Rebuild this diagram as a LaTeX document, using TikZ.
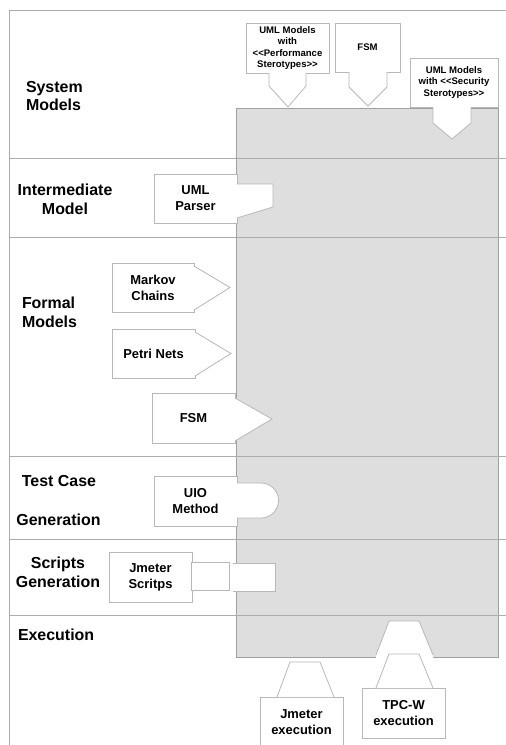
\documentclass[tikz,border=0pt]{standalone}
\usepackage{fontspec}
\setmainfont{Liberation Sans}
\usetikzlibrary{calc}
\definecolor{lanegray}{HTML}{ABABAB}
\definecolor{boxgray}{HTML}{B8B8B8}
\definecolor{fillgray}{HTML}{DEDEDE}
\definecolor{rectgray}{HTML}{A0A0A0}
\begin{document}
\begin{tikzpicture}[x=1bp,y=-1bp,
  lane/.style={draw=lanegray,line width=0.9bp},
  lanelabel/.style={font=\fontsize{16}{19}\selectfont\bfseries,inner sep=0,outer sep=0},
  box/.style={draw=boxgray,fill=white,line width=0.8bp,font=\fontsize{13}{16}\selectfont\bfseries,
    align=center,inner sep=0,outer sep=0,anchor=north west},
  smallbox/.style={box,font=\fontsize{9.6}{11.6}\selectfont\bfseries},
  tip/.style={draw=boxgray,fill=white,line width=0.8bp},
]
\useasboundingbox (0,0) rectangle (506,745);
\fill[white] (0,0) rectangle (506,745);

% grey process area
\node[draw=rectgray,fill=fillgray,line width=0.9bp,minimum width=262bp,minimum height=549bp,
      inner sep=0,outer sep=0,anchor=north west] (core) at (236,108) {};

% frame and lanes
\draw[lane] (9,10) -- (506,10);
\draw[lane] (9,10) -- (9,745);
\foreach \yy in {158,237,456,539,615} \draw[lane] (9,\yy) -- (506,\yy);

% lane labels
\node[lanelabel,anchor=west,align=left] (lsys) at (26,96) {System\\Models};
\node[lanelabel,align=center] (lint) at (65,199) {Intermediate\\Model};
\node[lanelabel,anchor=west,align=left] (lfor) at (22,312) {Formal\\Models};
\node[lanelabel] (ltc1) at (59,481) {Test Case};
\node[lanelabel] (ltc2) at (58.5,520) {Generation};
\node[lanelabel,align=center] (lscr) at (58,572.5) {Scripts\\Generation};
\node[lanelabel,anchor=west] (lexe) at (18,635) {Execution};

% system models
\node[smallbox,minimum width=83bp,minimum height=50bp] (perf) at (246,23)
  {UML Models\\with\\<{}<Performance\\Sterotypes>{}>};
\filldraw[tip] ($(perf.south)+(-18.5,0)$) -- ++(0,13) -- ($(perf.south)+(0.5,34)$)
  -- ($(perf.south)+(18.5,13)$) -- ($(perf.south)+(18.5,0)$);
\node[smallbox,minimum width=65bp,minimum height=49bp] (fsmtop) at (335,23) {FSM};
\filldraw[tip] ($(fsmtop.south)+(-18.5,0)$) -- ++(0,15) -- ($(fsmtop.south)+(0.5,34)$)
  -- ($(fsmtop.south)+(19.5,15)$) -- ($(fsmtop.south)+(19.5,0)$);
\node[smallbox,minimum width=88bp,minimum height=49bp] (sec) at (410,58)
  {UML Models\\with <{}<Security\\Sterotypes>{}>};
\filldraw[tip] ($(sec.south)+(-21,0)$) -- ++(0,16) -- ($(sec.south)+(-2,32)$)
  -- ($(sec.south)+(17,16)$) -- ($(sec.south)+(17,0)$);

% intermediate model
\node[box,minimum width=83bp,minimum height=49bp] (parser) at (154,174) {UML\\Parser};
\filldraw[tip] (237,184) -- (273,184) -- (273,207) -- (237,218);

% formal models
\node[box,minimum width=82bp,minimum height=49bp] (markov) at (112,263) {Markov\\Chains};
\filldraw[tip] ($(markov.north east)+(0,3)$) -- ($(markov.east)+(36,0)$) -- ($(markov.south east)+(0,-2)$);
\node[box,minimum width=83bp,minimum height=49bp] (petri) at (112,329) {Petri Nets};
\filldraw[tip] ($(petri.north east)+(0,3)$) -- ($(petri.east)+(36,0)$) -- ($(petri.south east)+(0,-2)$);
\node[box,minimum width=83bp,minimum height=50bp] (fsmf) at (152,393) {FSM};
\filldraw[tip] ($(fsmf.north east)+(0,5)$) -- ($(fsmf.east)+(37,1)$) -- ($(fsmf.south east)+(0,-2)$);

% test case generation
\node[box,minimum width=83bp,minimum height=50bp] (uio) at (154,476) {UIO\\Method};
\filldraw[tip] (237,483) -- (261,483) arc[start angle=90,end angle=-90,radius=17.5bp] -- (237,518);

% scripts generation
\node[box,minimum width=83bp,minimum height=50bp] (jms) at (109,552) {Jmeter\\Scritps};
\node[box,minimum width=38bp,minimum height=28bp] (sb1) at (191,562) {};
\fill[white] (233,563) rectangle (275,591);
\draw[boxgray,line width=0.8bp] (233,563) -- (275,563) -- (275,591) -- (233,591);

% execution
\fill[white] (376,655) -- (389,621) -- (419,621) -- (433,655) -- (433,659) -- (376,659) -- cycle;
\draw[boxgray,line width=0.8bp] (376,655) -- (389,621) -- (419,621) -- (433,655);
\node[box,minimum width=83bp,minimum height=50bp] (jmx) at (260,697) {Jmeter\\execution};
\filldraw[tip] ($(jmx.north west)+(17,0)$) -- ($(jmx.north west)+(30,-35)$)
  -- ($(jmx.north west)+(60,-35)$) -- ($(jmx.north west)+(74,0)$);
\node[box,minimum width=83bp,minimum height=50bp] (tpc) at (362,688) {TPC-W\\execution};
\filldraw[tip] ($(tpc.north west)+(14,0)$) -- ($(tpc.north west)+(27,-34)$)
  -- ($(tpc.north west)+(57,-34)$) -- ($(tpc.north west)+(71,0)$);
\end{tikzpicture}
\end{document}
